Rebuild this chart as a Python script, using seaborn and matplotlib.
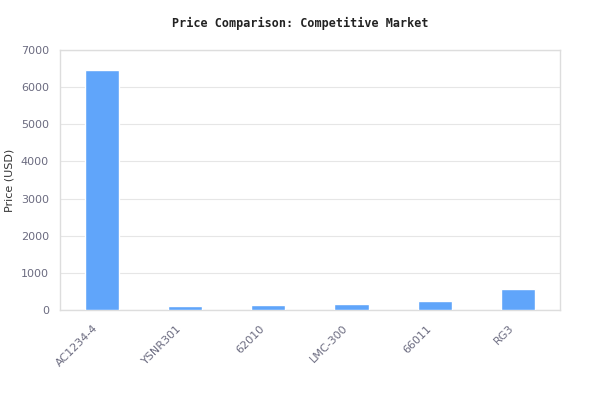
import matplotlib
matplotlib.use('Agg')
import matplotlib.pyplot as plt
import matplotlib.transforms as mtransforms
import seaborn as sns
import pandas as pd

# chart values
models = ['AC1234-4', 'YSNR301', '62010', 'LMC-300', '66011', 'RG3']
prices = [6460, 110, 135, 160, 240, 565]

df = pd.DataFrame({'Model': models, 'Price': prices})

sns.set_style('white')
plt.rcParams['font.family'] = ['DejaVu Sans']

fig = plt.figure(figsize=(6, 4.2), dpi=100)
ax = fig.add_axes([0.1, 0.262, 0.833, 0.619])

sns.barplot(x='Model', y='Price', data=df, color='#60a5fa', width=0.41,
            saturation=1, ax=ax, zorder=3)

ax.set_ylim(0, 7000)
ax.set_yticks(range(0, 7001, 1000))
ax.grid(axis='y', color='#e6e6e6', linewidth=0.8, zorder=0)
ax.set_axisbelow(True)
for s in ax.spines.values():
    s.set_color('#dddddd')
    s.set_linewidth(1)

ax.tick_params(axis='y', length=0, labelsize=8, labelcolor='#6b6b80', pad=8)
ax.tick_params(axis='x', length=0, labelsize=8, labelcolor='#6b6b80', pad=9.5)
# rotated labels sit a little left of the bar centre
shift = mtransforms.ScaledTranslation(-0.09, 0, fig.dpi_scale_trans)
for lbl in ax.get_xticklabels():
    lbl.set_rotation(45)
    lbl.set_ha('right')
    lbl.set_rotation_mode('anchor')
    lbl.set_transform(lbl.get_transform() + shift)
ax.set_xlabel('')
ax.set_ylabel('Price (USD)', fontsize=8, color='#333333')
ax.yaxis.set_label_coords(-0.092, 0.5)

fig.suptitle('Price Comparison: Competitive Market', y=0.96,
             fontsize=8.5, fontweight='bold', family='DejaVu Sans Mono', color='#222222')

fig.savefig('out.png', dpi=100)
